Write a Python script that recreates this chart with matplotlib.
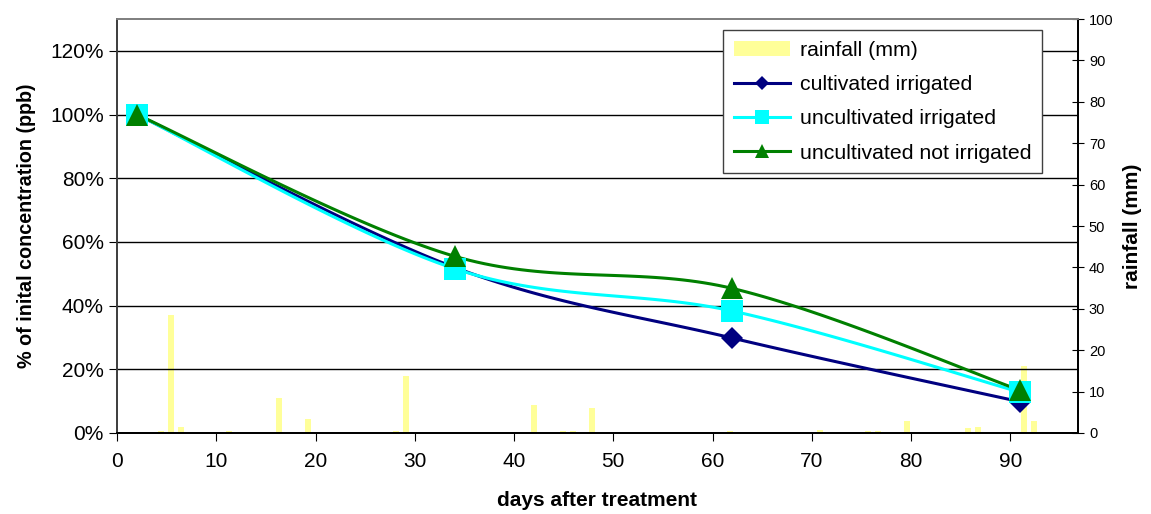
import numpy as np
import matplotlib
matplotlib.use("Agg")
import matplotlib.pyplot as plt
from matplotlib.patches import Patch
from matplotlib.lines import Line2D
from matplotlib.ticker import FuncFormatter

plt.rcParams["font.family"] = ["Liberation Sans", "DejaVu Sans"]

# sampling days and % of initial concentration
days = [2, 34, 62, 91]
cultivated_irrigated = [100, 52.0, 29.8, 9.8]
uncultivated_irrigated = [100, 51.6, 38.3, 12.8]
uncultivated_not_irrigated = [100, 55.5, 45.4, 13.4]

# daily rainfall (mm)
rain_days = [4.4, 5.4, 6.4, 11.3, 16.3, 19.2, 28.1, 29.1, 42.0, 44.9, 45.9, 47.9,
             61.8, 70.8, 75.7, 76.7, 79.6, 85.7, 86.7, 91.4, 92.4]
rain_mm = [0.5, 28.6, 1.4, 0.5, 8.4, 3.4, 0.5, 13.8, 6.8, 0.5, 0.5, 6.0,
           0.5, 0.8, 0.5, 0.5, 3.0, 1.2, 1.4, 16.3, 3.0]

NAVY = "#000080"
CYAN = "#00FFFF"
GREEN = "#008000"
RAIN = "#FFFF99"
PLOT_BG = "#C0C0C0"


def excel_smooth(x, y, n=40):
    """bezier smoothing like excel's 'smoothed line' option"""
    x = np.asarray(x, float)
    y = np.asarray(y, float)
    px = np.concatenate([[x[0]], x, [x[-1]]])
    py = np.concatenate([[y[0]], y, [y[-1]]])
    xs, ys = [], []
    t = np.linspace(0, 1, n)
    for i in range(1, len(px) - 2):
        p0 = np.array([px[i], py[i]])
        p3 = np.array([px[i + 1], py[i + 1]])
        c1 = p0 + (np.array([px[i + 1], py[i + 1]]) - np.array([px[i - 1], py[i - 1]])) / 6
        c2 = p3 - (np.array([px[i + 2], py[i + 2]]) - np.array([px[i], py[i]])) / 6
        b = ((1 - t) ** 3)[:, None] * p0 + (3 * (1 - t) ** 2 * t)[:, None] * c1 \
            + (3 * (1 - t) * t ** 2)[:, None] * c2 + (t ** 3)[:, None] * p3
        xs.extend(b[:, 0])
        ys.extend(b[:, 1])
    return np.array(xs), np.array(ys)


fig = plt.figure(figsize=(11.51, 5.14), dpi=100)
ax = fig.add_axes([0.1017, 0.1576, 0.8347, 0.8054])
ax2 = ax.twinx()

# rainfall bars on secondary axis, drawn underneath
ax2.set_facecolor(PLOT_BG)
ax2.bar(rain_days, rain_mm, width=0.6, color=RAIN, edgecolor="none", zorder=2)
ax2.set_ylim(0, 100)
ax2.set_yticks(np.arange(0, 101, 10))
ax2.tick_params(axis="y", direction="inout", length=8, labelsize=10.5, pad=4)
ax2.set_ylabel("rainfall (mm)", fontsize=15, fontweight="bold", labelpad=7)

ax.set_zorder(ax2.get_zorder() + 1)
ax.patch.set_visible(False)

series = [
    (cultivated_irrigated, NAVY, "D", 11.5, "cultivated irrigated"),
    (uncultivated_irrigated, CYAN, "s", 16.5, "uncultivated irrigated"),
    (uncultivated_not_irrigated, GREEN, "^", 16.5, "uncultivated not irrigated"),
]
for vals, col, mk, ms, lab in series:
    sx, sy = excel_smooth(days, np.array(vals) / 100)
    ax.plot(sx, sy, color=col, lw=2.2, zorder=3, solid_capstyle="round")
    ax.plot(days, np.array(vals) / 100, ls="none", marker=mk, ms=ms, color=col,
            markeredgewidth=0, zorder=4)

ax.set_xlim(0, 96.8)
ax.set_ylim(0, 1.3)
ax.set_xticks(np.arange(0, 91, 10))
ax.set_yticks(np.arange(0, 1.21, 0.2))
ax.yaxis.set_major_formatter(FuncFormatter(lambda v, p: f"{v * 100:.0f}%"))
ax.tick_params(axis="both", labelsize=15, length=6, direction="out")
ax.tick_params(axis="x", pad=8)
ax.grid(axis="y", color="black", lw=1.0)
ax.set_xlabel("days after treatment", fontsize=15, fontweight="bold", labelpad=14)
ax.set_ylabel("% of inital concentration (ppb)", fontsize=14.2, fontweight="bold", labelpad=10)

for a in (ax, ax2):
    a.spines["top"].set_color("#808080")
    a.spines["left"].set_color("#404040")
    a.spines["bottom"].set_color("black")
    a.spines["right"].set_color("black")
    for s in a.spines.values():
        s.set_linewidth(1.3)

handles = [Patch(facecolor=RAIN, edgecolor="none", label="rainfall (mm)")]
for vals, col, mk, ms, lab in series:
    handles.append(Line2D([0], [0], color=col, lw=2.2, marker=mk,
                          ms=ms * 0.62, markeredgewidth=0, label=lab))
leg = ax.legend(handles=handles, loc="upper left", bbox_to_anchor=(0.631, 0.973),
                fontsize=15.3, frameon=True, fancybox=False, edgecolor="#404040",
                facecolor="white", framealpha=1, handlelength=2.65, handleheight=0.7,
                labelspacing=0.72, borderpad=0.5, borderaxespad=0, handletextpad=0.45)
leg.get_frame().set_linewidth(1.0)

fig.savefig("out.png", dpi=100)
